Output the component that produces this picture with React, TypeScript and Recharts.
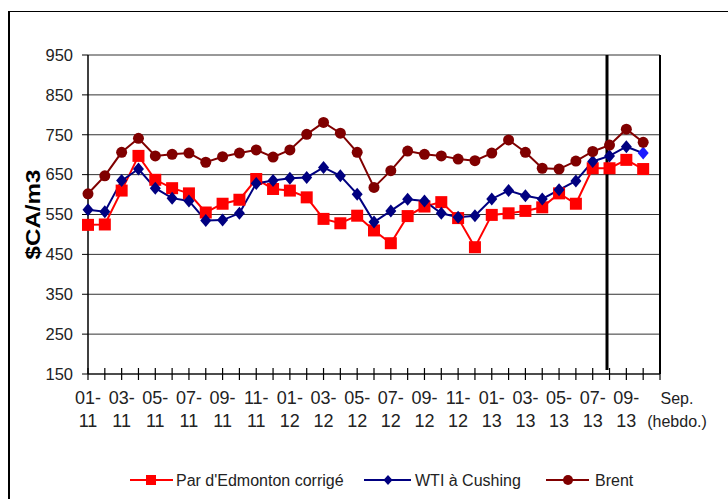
import { CartesianGrid, Label, Line, LineChart, ReferenceLine, XAxis, YAxis } from "recharts";

// Prix mensuels (janv. 2011 - août 2013) puis hebdo de septembre, en $CA/m3
const parEdmonton = [
    524, 525, 610, 697, 637, 616, 603, 555, 577, 587, 639, 614, 610, 593, 539, 528, 547,
    510, 478, 546, 570, 581, 541, 468, 549, 553, 559, 568, 603, 577, 666, 666, 687, 664,
];
const wtiCushing = [
    562, 557, 635, 664, 616, 591, 584, 535, 536, 553, 628, 635, 641, 643, 668, 647, 601,
    531, 559, 588, 584, 553, 543, 547, 589, 610, 597, 589, 612, 634, 683, 697, 720, 704,
];
const brent = [
    602, 647, 706, 741, 697, 701, 704, 681, 695, 704, 712, 694, 712, 751, 781, 754, 706,
    618, 660, 709, 701, 697, 689, 685, 704, 737, 706, 666, 664, 684, 708, 724, 764, 731,
];

const xLabelTop = ["01-", "03-", "05-", "07-", "09-", "11-", "01-", "03-", "05-", "07-", "09-", "11-", "01-", "03-", "05-", "07-", "09-"];
const xLabelBottom = ["11", "11", "11", "11", "11", "11", "12", "12", "12", "12", "12", "12", "13", "13", "13", "13", "13"];
const yTicks = [150, 250, 350, 450, 550, 650, 750, 850, 950];
const xTicks = Array.from({length: 35}, (_, i) => i);

const data = parEdmonton.map((v, i) => ({
    i,
    par: v,
    wti: wtiCushing[i],
    brent: brent[i],
}));

const FONT = "'Liberation Sans', Arial, sans-serif";
const TEXT = "#222";

function XTick({x, y, payload}: any) {
    const i = payload.value as number;
    let top = "";
    let bottom = "";
    let dx = 0;
    let size = 18;
    if (i % 2 === 0 && i / 2 < xLabelTop.length) {
        top = xLabelTop[i / 2];
        bottom = xLabelBottom[i / 2];
    } else if (i === 34) {
        top = "Sep.";
        bottom = "(hebdo.)";
        dx = 17;
        size = 16;
    }
    return (
        <g>
            <line x1={x} x2={x} y1={y - 12} y2={y} stroke="#000" strokeWidth={1.2}/>
            {top && (
                <text x={x + dx} y={y + 24} textAnchor="middle" fontSize={size} fontFamily={FONT} fill={TEXT}>
                    {top}
                </text>
            )}
            {bottom && (
                <text x={x + dx} y={y + 47} textAnchor="middle" fontSize={size} fontFamily={FONT} fill={TEXT}>
                    {bottom}
                </text>
            )}
        </g>
    );
}

function SquareDot({cx, cy}: any) {
    if (cx == null || cy == null) return null;
    return <rect x={cx - 6} y={cy - 6} width={12} height={12} fill="#FF0000"/>;
}

function DiamondDot({cx, cy, index}: any) {
    if (cx == null || cy == null) return null;
    const fill = index === wtiCushing.length - 1 ? "#1a1aff" : "#000080";
    return <polygon points={`${cx},${cy - 6.5} ${cx + 5.5},${cy} ${cx},${cy + 6.5} ${cx - 5.5},${cy}`} fill={fill}/>;
}

function CircleDot({cx, cy}: any) {
    if (cx == null || cy == null) return null;
    return <circle cx={cx} cy={cy} r={5.5} fill="#800000"/>;
}

function YTitle({viewBox}: any) {
    const cx = viewBox.x + 32;
    const cy = viewBox.y + viewBox.height / 2;
    return (
        <text
            x={cx}
            y={cy}
            transform={`rotate(-90 ${cx} ${cy})`}
            textAnchor="middle"
            dominantBaseline="central"
            fontSize={21}
            fontWeight="bold"
            fontFamily={FONT}
            fill="#000"
            textLength={90}
            lengthAdjust="spacingAndGlyphs"
        >
            $CA/m3
        </text>
    );
}

function ChartLegend() {
    const y = 480;
    return (
        <svg width={728} height={499} style={{position: "absolute", left: 0, top: 0, pointerEvents: "none"}}>
            <line x1={130} x2={173} y1={y} y2={y} stroke="#FF0000" strokeWidth={2}/>
            <rect x={146} y={y - 5} width={10} height={10} fill="#FF0000"/>
            <text x={176} y={y + 5.5} fontSize={16} fontFamily={FONT} fill={TEXT}>Par d'Edmonton corrigé</text>

            <line x1={364} x2={411} y1={y} y2={y} stroke="#000080" strokeWidth={2}/>
            <polygon points={`388,${y - 5} 392.5,${y} 388,${y + 5} 383.5,${y}`} fill="#000080"/>
            <text x={415} y={y + 5.5} fontSize={16} fontFamily={FONT} fill={TEXT}>WTI à Cushing</text>

            <line x1={546} x2={589} y1={y} y2={y} stroke="#800000" strokeWidth={2}/>
            <circle cx={568} cy={y} r={5} fill="#800000"/>
            <text x={595} y={y + 5.5} fontSize={16} fontFamily={FONT} fill={TEXT}>Brent</text>
        </svg>
    );
}

export default function App() {
    return (
        <div style={{position: "absolute", left: 0, top: 0, width: 728, height: 499, background: "#fff", overflow: "hidden"}}>
            <div
                style={{
                    position: "absolute",
                    left: 8,
                    top: 11,
                    width: 760,
                    height: 600,
                    borderLeft: "2px solid #000",
                    borderTop: "1.5px solid #000",
                }}
            />
            <div style={{position: "absolute", left: 0, top: 0}}>
                <LineChart width={728} height={499} data={data} margin={{top: 55, right: 0, bottom: 65, left: 0}}>
                    <CartesianGrid yAxisId="left" vertical={false} stroke="#333" strokeWidth={1}/>
                    <XAxis
                        dataKey="i"
                        type="number"
                        domain={[0, 34]}
                        ticks={xTicks}
                        interval={0}
                        height={60}
                        tickSize={6}
                        tickMargin={0}
                        tickLine={false}
                        axisLine={{stroke: "#000", strokeWidth: 1.2}}
                        tick={<XTick/>}
                    />
                    <YAxis
                        yAxisId="left"
                        width={88}
                        domain={[150, 950]}
                        ticks={yTicks}
                        interval={0}
                        tickSize={6}
                        tickMargin={9}
                        axisLine={{stroke: "#000", strokeWidth: 1.5}}
                        tickLine={{stroke: "#000"}}
                        tick={{fontSize: 16.5, fill: TEXT, fontFamily: FONT}}
                    >
                        <Label content={<YTitle/>}/>
                    </YAxis>
                    <YAxis
                        yAxisId="right"
                        orientation="right"
                        width={68}
                        domain={[150, 950]}
                        ticks={yTicks}
                        interval={0}
                        tickSize={6}
                        tickMargin={8}
                        axisLine={{stroke: "#000", strokeWidth: 2}}
                        tickLine={{stroke: "#000"}}
                        tick={{fontSize: 16.5, fill: TEXT, fontFamily: FONT}}
                    />
                    <ReferenceLine
                        yAxisId="left"
                        segment={[{x: 30.85, y: 950}, {x: 30.85, y: 160}]}
                        stroke="#000"
                        strokeWidth={3}
                    />
                    <Line
                        yAxisId="left"
                        dataKey="par"
                        name="Par d'Edmonton corrigé"
                        stroke="#FF0000"
                        strokeWidth={2}
                        dot={<SquareDot/>}
                        activeDot={false}
                        isAnimationActive={false}
                    />
                    <Line
                        yAxisId="left"
                        dataKey="wti"
                        name="WTI à Cushing"
                        stroke="#000080"
                        strokeWidth={2}
                        dot={<DiamondDot/>}
                        activeDot={false}
                        isAnimationActive={false}
                    />
                    <Line
                        yAxisId="left"
                        dataKey="brent"
                        name="Brent"
                        stroke="#800000"
                        strokeWidth={2}
                        dot={<CircleDot/>}
                        activeDot={false}
                        isAnimationActive={false}
                    />
                </LineChart>
            </div>
            <ChartLegend/>
        </div>
    );
}
